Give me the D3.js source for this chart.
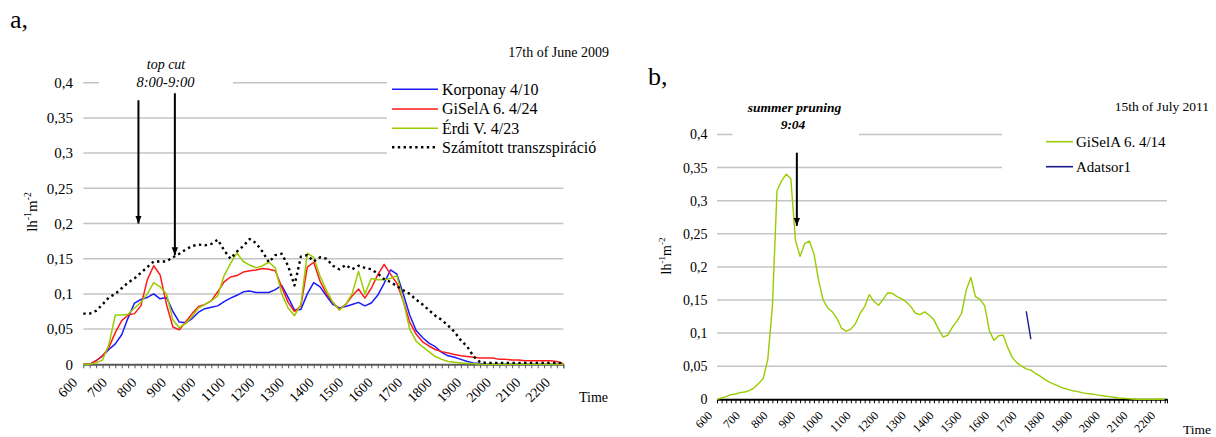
<!DOCTYPE html>
<html>
<head>
<meta charset="utf-8">
<script src="https://cdn.jsdelivr.net/npm/d3@7"></script>
<style>
  body { margin: 0; background: #fff; }
  svg, svg text { font-family: "Liberation Serif", "Times New Roman", serif; }
</style>
</head>
<body>
<script>
// a, -- 17th of June 2009, one reading every 13 minutes from 6:00
const startA = 360;
const stepA = 13;
const korponay = [0, 0, 0.005, 0.012, 0.021, 0.029, 0.042, 0.066, 0.087, 0.092,
  0.095, 0.1, 0.093, 0.095, 0.075, 0.06, 0.059, 0.065, 0.074, 0.079,
  0.081, 0.083, 0.089, 0.094, 0.098, 0.103, 0.104, 0.102, 0.102, 0.102,
  0.106, 0.112, 0.095, 0.077, 0.078, 0.1, 0.116, 0.11, 0.097, 0.085,
  0.08, 0.082, 0.085, 0.088, 0.083, 0.087, 0.098, 0.115, 0.134, 0.128,
  0.1, 0.07, 0.048, 0.038, 0.03, 0.025, 0.017, 0.012, 0.01, 0.007,
  0.004, 0.002, 0.001, 0, 0, 0, 0, 0, 0, 0,
  0, 0, 0, 0, 0, 0];
const gisela24 = [0, 0, 0.005, 0.012, 0.024, 0.045, 0.062, 0.07, 0.072, 0.083,
  0.12, 0.14, 0.127, 0.085, 0.053, 0.049, 0.06, 0.072, 0.082, 0.085,
  0.09, 0.103, 0.117, 0.124, 0.126, 0.131, 0.133, 0.134, 0.136, 0.135,
  0.133, 0.11, 0.088, 0.075, 0.083, 0.138, 0.145, 0.118, 0.1, 0.088,
  0.078, 0.085, 0.097, 0.107, 0.094, 0.108, 0.127, 0.142, 0.128, 0.115,
  0.09, 0.06, 0.043, 0.032, 0.026, 0.021, 0.018, 0.016, 0.014, 0.012,
  0.011, 0.01, 0.009, 0.009, 0.009, 0.007, 0.007, 0.006, 0.006, 0.005,
  0.005, 0.005, 0.005, 0.005, 0.004, 0.001];
const erdi = [0, 0, 0.002, 0.006, 0.028, 0.07, 0.07, 0.071, 0.08, 0.088,
  0.1, 0.116, 0.11, 0.1, 0.063, 0.052, 0.058, 0.068, 0.08, 0.085,
  0.09, 0.097, 0.126, 0.143, 0.158, 0.146, 0.141, 0.137, 0.14, 0.145,
  0.137, 0.1, 0.08, 0.069, 0.085, 0.158, 0.152, 0.125, 0.105, 0.088,
  0.077, 0.085, 0.1, 0.132, 0.1, 0.122, 0.12, 0.12, 0.122, 0.126,
  0.09, 0.05, 0.033, 0.025, 0.018, 0.011, 0.007, 0.004, 0.003, 0.002,
  0.001, 0.001, 0, 0, 0, 0, 0, 0, 0, 0,
  0, 0, 0, 0, 0, 0];
const szamitott = [0.072, 0.072, 0.076, 0.085, 0.095, 0.1, 0.108, 0.116, 0.122, 0.13,
  0.138, 0.146, 0.146, 0.146, 0.152, 0.157, 0.163, 0.168, 0.17, 0.169,
  0.171, 0.177, 0.162, 0.15, 0.16, 0.168, 0.178, 0.172, 0.16, 0.145,
  0.155, 0.157, 0.14, 0.112, 0.153, 0.155, 0.146, 0.152, 0.15, 0.14,
  0.135, 0.141, 0.135, 0.14, 0.137, 0.135, 0.129, 0.121, 0.117, 0.111,
  0.105, 0.1, 0.092, 0.085, 0.077, 0.069, 0.063, 0.055, 0.046, 0.034,
  0.025, 0.011, 0.003, 0.002, 0.002, 0.002, 0.002, 0.002, 0.002, 0.002,
  0.002, 0.002, 0.002, 0.002, 0.002, 0.002];

// b, -- 15th of July 2011, one reading every 10 minutes from 6:00
const startB = 360;
const stepB = 10;
const gisela14 = [0, 0.002, 0.004, 0.007, 0.008, 0.01, 0.011, 0.013, 0.017, 0.024,
  0.031, 0.06, 0.14, 0.315, 0.33, 0.34, 0.333, 0.24, 0.216, 0.235,
  0.239, 0.22, 0.18, 0.15, 0.138, 0.132, 0.122, 0.107, 0.103, 0.106,
  0.114, 0.13, 0.14, 0.158, 0.148, 0.142, 0.151, 0.161, 0.16, 0.155,
  0.152, 0.147, 0.14, 0.13, 0.128, 0.132, 0.127, 0.12, 0.106, 0.094,
  0.097, 0.109, 0.118, 0.13, 0.165, 0.184, 0.155, 0.151, 0.141, 0.104,
  0.089, 0.096, 0.097, 0.078, 0.063, 0.055, 0.05, 0.046, 0.044, 0.039,
  0.035, 0.03, 0.026, 0.023, 0.02, 0.017, 0.015, 0.013, 0.012, 0.01,
  0.009, 0.008, 0.007, 0.006, 0.005, 0.004, 0.003, 0.002, 0.0015, 0.001,
  0.0005, 0, 0, 0, 0, 0, 0, 0];
const adatsor1Idx = [67, 68];
const adatsor1Val = [0.133, 0.091];

const hourLabels = ['600', '700', '800', '900', '1000', '1100', '1200', '1300', '1400',
  '1500', '1600', '1700', '1800', '1900', '2000', '2100', '2200'];
const yTicks = [0, 0.05, 0.1, 0.15, 0.2, 0.25, 0.3, 0.35, 0.4];

const serif = 'Liberation Serif, Times New Roman, serif';
const huFormat = d3.formatLocale({ decimal: ',', thousands: ' ', grouping: [3], currency: ['', ''] }).format('.2~f');

const svg = d3.select('body').append('svg')
  .attr('width', 1216)
  .attr('height', 437)
  .attr('font-family', serif);

const defs = svg.append('defs');
defs.append('marker')
  .attr('id', 'head')
  .attr('viewBox', '0 0 10 10')
  .attr('refX', 10)
  .attr('refY', 5)
  .attr('markerUnits', 'userSpaceOnUse')
  .attr('markerWidth', 8)
  .attr('markerHeight', 8)
  .attr('orient', 'auto')
  .append('path')
  .attr('d', 'M0,1 L10,5 L0,9 Z')
  .attr('fill', '#000');

function drawPanel(p) {
  const g = svg.append('g').attr('font-family', serif);
  const count = p.series[0].values.length;
  const times = d3.range(count).map(i => p.start + i * p.step);

  const x = d3.scaleLinear().domain([p.start, p.end]).range([p.left, p.right]);
  const y = d3.scaleLinear().domain([0, 0.4]).range([p.bottom, p.top]);

  // gridlines
  g.append('g').selectAll('line')
    .data(yTicks.filter(v => v > 0))
    .join('line')
    .attr('x1', p.left).attr('x2', p.right)
    .attr('y1', d => y(d)).attr('y2', d => y(d))
    .attr('stroke', '#c4c4c4')
    .attr('stroke-width', 1.5);

  // white boxes behind the note and the legend
  g.append('g').selectAll('rect')
    .data(p.masks)
    .join('rect')
    .attr('x', d => d[0]).attr('y', d => d[1])
    .attr('width', d => d[2]).attr('height', d => d[3])
    .attr('fill', '#fff');

  // y labels
  const yAxis = g.append('g')
    .attr('transform', `translate(${p.left},0)`)
    .call(d3.axisLeft(y).tickValues(yTicks).tickFormat(huFormat)
      .tickSize(0).tickPadding(p.left - p.yLabelX));
  yAxis.attr('font-family', serif).attr('font-size', p.yFont);
  yAxis.select('.domain').remove();
  yAxis.selectAll('text').attr('fill', '#000');

  // x axis with a tick at every reading
  const xAxis = g.append('g')
    .attr('transform', `translate(0,${p.bottom})`)
    .call(d3.axisBottom(x).tickValues(times.concat([p.end])).tickFormat('')
      .tickSize(4).tickSizeOuter(0));
  xAxis.select('.domain').attr('stroke', p.axisColor).attr('stroke-width', 2);
  xAxis.selectAll('.tick line').attr('stroke', p.axisColor).attr('stroke-width', 1);

  g.append('g').selectAll('text')
    .data(hourLabels)
    .join('text')
    .attr('transform', (d, i) => `translate(${x(360 + i * 60) + p.labelDx},${p.bottom + p.labelDy}) rotate(-45)`)
    .attr('text-anchor', 'end')
    .attr('font-size', p.tickFont)
    .text(d => d);

  g.append('text')
    .attr('x', p.timePos[0]).attr('y', p.timePos[1])
    .attr('font-size', p.timeFont)
    .text('Time');

  // y title  lh-1 m-2
  const yt = g.append('text')
    .attr('transform', `translate(${p.yTitle[0]},${p.yTitle[1]}) rotate(-90)`)
    .attr('text-anchor', 'middle')
    .attr('font-size', p.yTitleFont);
  yt.append('tspan').text('lh');
  yt.append('tspan').attr('dy', -6).attr('font-size', p.yTitleFont * 0.65).text('-1');
  yt.append('tspan').attr('dy', 6).text('m');
  yt.append('tspan').attr('dy', -6).attr('font-size', p.yTitleFont * 0.65).text('-2');

  // series
  const line = d3.line()
    .x(d => x(d.t))
    .y(d => y(d.v));

  p.series.forEach(s => {
    const pts = s.idx
      ? s.idx.map((k, j) => ({ t: p.start + k * p.step, v: s.values[j] }))
      : s.values.map((v, i) => ({ t: times[i], v }));
    g.append('path')
      .datum(pts)
      .attr('d', line)
      .attr('fill', 'none')
      .attr('stroke', s.color)
      .attr('stroke-width', s.width)
      .attr('stroke-dasharray', s.dash || null)
      .attr('stroke-linejoin', 'round');
  });

  // legend
  const lg = g.append('g');
  p.series.forEach((s, i) => {
    const ly = p.legend.ys[i];
    lg.append('line')
      .attr('x1', p.legend.x1).attr('x2', p.legend.x2)
      .attr('y1', ly).attr('y2', ly)
      .attr('stroke', s.color)
      .attr('stroke-width', s.dash ? 2.4 : 1.6)
      .attr('stroke-dasharray', s.dash || null);
    lg.append('text')
      .attr('x', p.legend.tx).attr('y', ly + p.legend.font * 0.33)
      .attr('font-size', p.legend.font)
      .text(s.name);
  });

  // panel tag and date
  g.append('text')
    .attr('x', p.tag[0]).attr('y', p.tag[1])
    .attr('font-size', 26)
    .text(p.tagText);
  g.append('text')
    .attr('x', p.date[0]).attr('y', p.date[1])
    .attr('text-anchor', 'end')
    .attr('font-size', p.dateFont)
    .text(p.dateText);

  // note and arrows
  p.notes.forEach(n => {
    g.append('text')
      .attr('x', n.x).attr('y', n.y)
      .attr('text-anchor', 'middle')
      .attr('font-size', n.size)
      .attr('font-style', 'italic')
      .attr('font-weight', n.bold ? 'bold' : 'normal')
      .text(n.text);
  });
  p.arrows.forEach(a => {
    g.append('line')
      .attr('x1', x(a.t)).attr('x2', x(a.t))
      .attr('y1', y(a.from)).attr('y2', y(a.to))
      .attr('stroke', '#000')
      .attr('stroke-width', 2)
      .attr('marker-end', 'url(#head)');
  });
}

drawPanel({
  left: 83.3, right: 563.3, top: 82.7, bottom: 364.3,
  start: startA, end: startA + 75 * stepA, step: stepA,
  series: [
    { name: 'Korponay 4/10', values: korponay, color: '#1a1aff', width: 1.5 },
    { name: 'GiSelA 6. 4/24', values: gisela24, color: '#ff1a1a', width: 1.5 },
    { name: 'Érdi V. 4/23', values: erdi, color: '#99cc00', width: 1.5 },
    { name: 'Számított transzspiráció', values: szamitott, color: '#000', width: 2.4, dash: '2.4,3.4' }
  ],
  axisColor: '#595959',
  tickFont: 14, labelDx: -5, labelDy: 19,
  timePos: [579, 402], timeFont: 14,
  yLabelX: 73, yFont: 15,
  yTitle: [37, 212], yTitleFont: 15,
  legend: { x1: 392, x2: 438, tx: 442, ys: [89.3, 109, 128.3, 147.3], font: 16 },
  masks: [[99, 60, 134, 30], [387, 75, 229, 84]],
  tag: [10, 28], tagText: 'a,',
  date: [609, 57], dateText: '17th of June 2009', dateFont: 14,
  notes: [
    { text: 'top cut', x: 166, y: 69, size: 14 },
    { text: '8:00-9:00', x: 165.5, y: 87, size: 14.5 }
  ],
  arrows: [
    { t: 472, from: 0.375, to: 0.2 },
    { t: 546, from: 0.385, to: 0.155 }
  ]
});

drawPanel({
  left: 717, right: 1167, top: 134.5, bottom: 399.3,
  start: startB, end: startB + 97.5 * stepB, step: stepB,
  series: [
    { name: 'GiSelA 6. 4/14', values: gisela14, color: '#99cc00', width: 1.4 },
    { name: 'Adatsor1', values: adatsor1Val, idx: adatsor1Idx, color: '#1a1a8c', width: 1.4 }
  ],
  axisColor: '#000',
  tickFont: 12, labelDx: -4, labelDy: 17,
  timePos: [1183, 434], timeFont: 13.5,
  yLabelX: 707.5, yFont: 14,
  yTitle: [671, 256], yTitleFont: 14,
  legend: { x1: 1046, x2: 1073, tx: 1076, ys: [141.7, 166.7], font: 15 },
  masks: [[732.5, 95, 126.5, 45], [1002, 125, 214, 50]],
  tag: [648, 85], tagText: 'b,',
  date: [1209, 111], dateText: '15th of July 2011', dateFont: 13.5,
  notes: [
    { text: 'summer pruning', x: 794.5, y: 112, size: 13.5, bold: true },
    { text: '9:04', x: 793, y: 129, size: 13.5, bold: true }
  ],
  arrows: [
    { t: 533, from: 0.3725, to: 0.262 }
  ]
});
</script>
</body>
</html>
